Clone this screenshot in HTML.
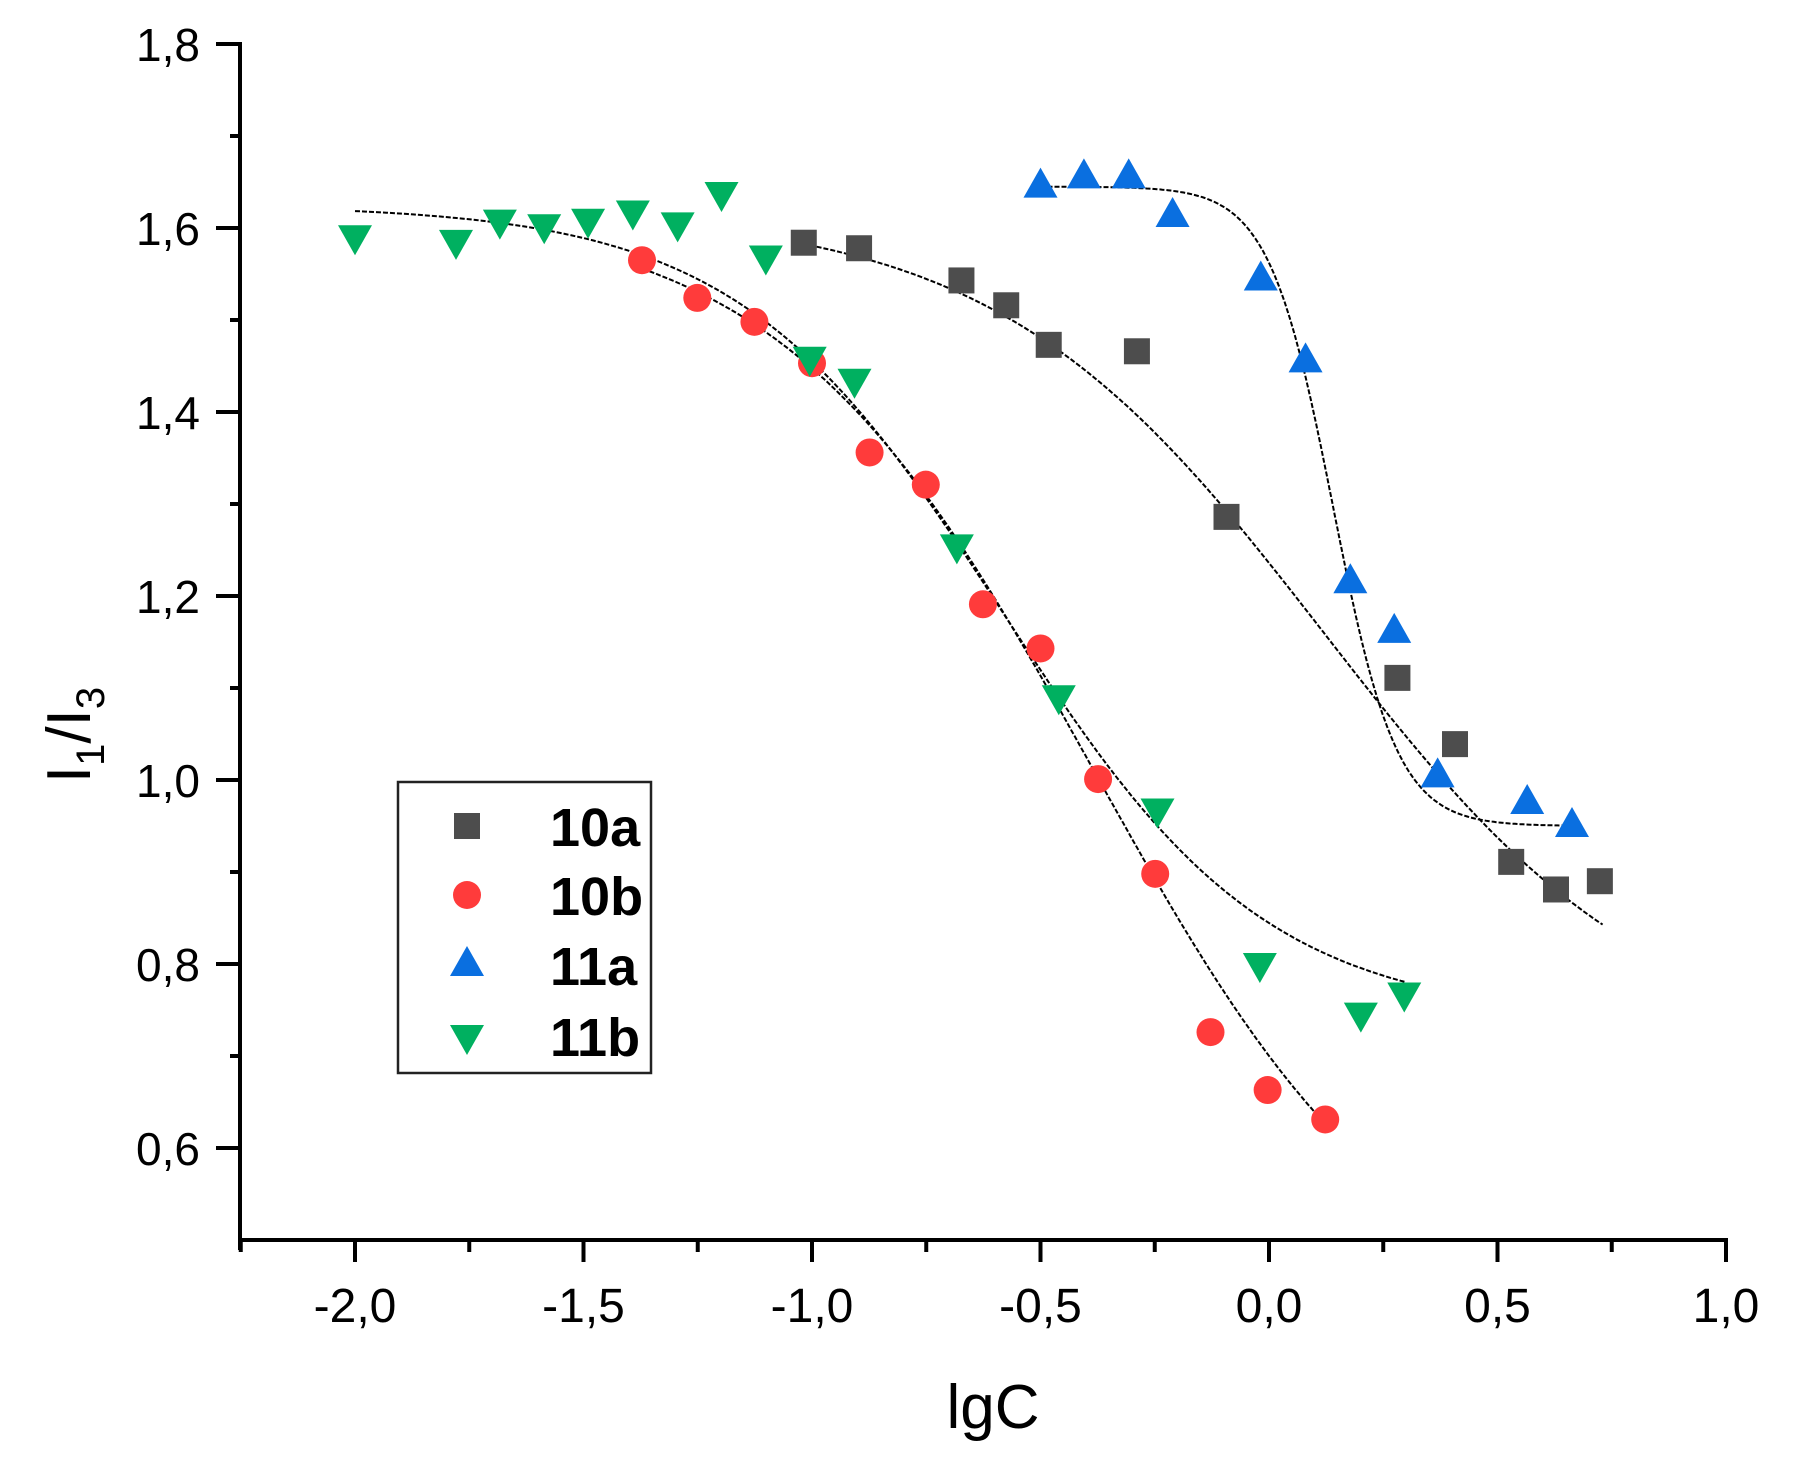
<!DOCTYPE html>
<html><head><meta charset="utf-8"><style>
html,body{margin:0;padding:0;background:#fff;}
svg{display:block;font-family:"Liberation Sans",Arial,sans-serif;}
</style></head><body>
<svg id="chart" width="1801" height="1457" viewBox="0 0 1801 1457" xmlns="http://www.w3.org/2000/svg">
<g id="axes"></g>
<g id="curves"></g>
<g id="points"></g>
<text x="993" y="1428" font-size="62" text-anchor="middle" fill="#000">lgC</text>
<text transform="translate(90,735) rotate(-90)" font-size="62" text-anchor="middle" fill="#000">I<tspan font-size="40" dy="14">1</tspan><tspan dy="-14">/I</tspan><tspan font-size="40" dy="14">3</tspan></text>
<g id="legend">
<rect x="398" y="782" width="253" height="291" fill="#fff" stroke="#222" stroke-width="2.5"/>
</g>
</svg>
<script>
const xTicks=[-2.0,-1.5,-1.0,-0.5,0.0,0.5,1.0];
const xTickLabels=["-2,0","-1,5","-1,0","-0,5","0,0","0,5","1,0"];
const yTicks=[0.6,0.8,1.0,1.2,1.4,1.6,1.8];
const yTickLabels=["0,6","0,8","1,0","1,2","1,4","1,6","1,8"];
const seriesNames=["10a","10b","11a","11b"];
const x10a=[-1.018,-0.897,-0.673,-0.575,-0.482,-0.289,-0.093,0.281,0.407,0.530,0.628,0.724];
const y10a=[1.584,1.578,1.543,1.516,1.473,1.466,1.286,1.111,1.039,0.911,0.881,0.890];
const x10b=[-1.372,-1.251,-1.126,-1.000,-0.874,-0.751,-0.626,-0.500,-0.374,-0.249,-0.128,-0.003,0.123];
const y10b=[1.565,1.524,1.498,1.453,1.356,1.321,1.191,1.143,1.001,0.898,0.726,0.663,0.631];
const x11a=[-0.500,-0.405,-0.307,-0.211,-0.018,0.080,0.178,0.274,0.369,0.565,0.663];
const y11a=[1.645,1.655,1.655,1.613,1.544,1.455,1.215,1.161,1.004,0.975,0.950];
const x11b=[-2.0,-1.779,-1.683,-1.586,-1.490,-1.392,-1.294,-1.198,-1.101,-1.005,-0.907,-0.683,-0.460,-0.244,-0.020,0.201,0.296];
const y11b=[1.591,1.586,1.608,1.603,1.609,1.618,1.605,1.638,1.569,1.459,1.435,1.255,1.091,0.968,0.800,0.746,0.768];
// Boltzmann fit params [A1,A2,x0,dx,xmin,xmax]
const fit10a=[1.62,0.70,0.12,0.36,-1.02,0.73];
const fit10b=[1.62,0.40,-0.383,0.342,-1.37,0.13];
const fit11a=[1.645,0.95,0.14,0.07,-0.5,0.66];
const fit11b=[1.625,0.74,-0.583,0.29,-2.0,0.3];

const NS="http://www.w3.org/2000/svg";
function X(v){return 355+(v+2)*457;}
function Y(v){return 1148-(v-0.6)*920;}
function mk(tag,attrs,parent){const e=document.createElementNS(NS,tag);for(const k in attrs)e.setAttribute(k,attrs[k]);parent.appendChild(e);return e;}
const axes=document.getElementById('axes');
let e;
e=mk('line',{x1:240,y1:1240,x2:1728,y2:1240,stroke:'#000','stroke-width':4},axes);


e=mk('line',{x1:240,y1:42,x2:240,y2:1250,stroke:'#000','stroke-width':4},axes);


xTicks.forEach((t,i)=>{
  e=mk('line',{x1:X(t),y1:1240,x2:X(t),y2:1262,stroke:'#000','stroke-width':4},axes);
  
  
  if(i<xTicks.length-1){
    e=mk('line',{x1:X(t+0.25),y1:1240,x2:X(t+0.25),y2:1252,stroke:'#000','stroke-width':4},axes);
    
    
  }
  e=mk('text',{x:X(t),y:1322,'font-size':48,'text-anchor':'middle',fill:'#000'},axes);
  e.textContent=xTickLabels[i];
  
  
});
e=mk('line',{x1:X(-2.25),y1:1240,x2:X(-2.25),y2:1252,stroke:'#000','stroke-width':4},axes);


yTicks.forEach((t,i)=>{
  e=mk('line',{x1:216,y1:Y(t),x2:240,y2:Y(t),stroke:'#000','stroke-width':4},axes);
  
  
  if(i<yTicks.length-1){
    e=mk('line',{x1:230,y1:Y(t+0.1),x2:240,y2:Y(t+0.1),stroke:'#000','stroke-width':4},axes);
    
    
  }
  e=mk('text',{x:200,y:Y(t)+17,'font-size':46,'text-anchor':'end',fill:'#000'},axes);
  e.textContent=yTickLabels[i];
  
  
});
const curves=document.getElementById('curves');
[[fit10a,'fit-10a'],[fit10b,'fit-10b'],[fit11a,'fit-11a'],[fit11b,'fit-11b']].forEach(([f,n])=>{
  let d='';const N=200;
  for(let k=0;k<=N;k++){const x=f[4]+(f[5]-f[4])*k/N;const y=(f[0]-f[1])/(1+Math.exp((x-f[2])/f[3]))+f[1];d+=(k?'L':'M')+X(x).toFixed(1)+','+Y(y).toFixed(1);}
  e=mk('path',{d:d,fill:'none',stroke:'#000','stroke-width':2,'stroke-dasharray':'5,2'},curves);
  
  
});
const pts=document.getElementById('points');
function marker(type,cx,cy,parent){
  if(type==0)return mk('rect',{x:cx-13,y:cy-13,width:26,height:26,fill:'#4d4d4d'},parent);
  if(type==1)return mk('circle',{cx:cx,cy:cy,r:14,fill:'#ff3b3b'},parent);
  if(type==2)return mk('polygon',{points:`${cx},${cy-19} ${cx-17},${cy+11} ${cx+17},${cy+11}`,fill:'#0a6fe0'},parent);
  return mk('polygon',{points:`${cx},${cy+19} ${cx-17},${cy-11} ${cx+17},${cy-11}`,fill:'#00b060'},parent);
}
const allX=[x10a,x10b,x11a,x11b],allY=[y10a,y10b,y11a,y11b];
allX.forEach((xs,s)=>{
  xs.forEach((xv,i)=>{
    e=marker(s,X(xv),Y(allY[s][i]),pts);
    
    
  });
});
const leg=document.getElementById('legend');
const legY=[826,895,965,1036];
seriesNames.forEach((n,s)=>{
  e=marker(s,467,legY[s],leg);
  
  
  e=mk('text',{x:550,y:legY[s]+20,'font-size':54,'font-weight':'bold',fill:'#000'},leg);
  e.textContent=n;
  
  
});
</script>
</body></html>
